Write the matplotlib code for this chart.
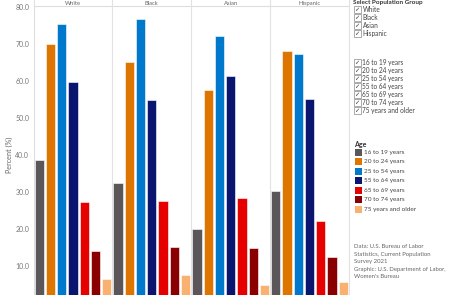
import matplotlib
matplotlib.use('Agg')
import matplotlib.pyplot as plt
from matplotlib.patches import Rectangle

plt.rcParams['font.family'] = ['Lato', 'DejaVu Sans']

groups = ['White', 'Black', 'Asian', 'Hispanic']
ages = ['16 to 19 years', '20 to 24 years', '25 to 54 years', '55 to 64 years',
        '65 to 69 years', '70 to 74 years', '75 years and older']
colors = ['#5b5659', '#dd7500', '#0078cc', '#0a1570', '#e60000', '#8a0000', '#f8b170']

white = [38.7, 70.1, 75.4, 59.8, 27.5, 14.2, 6.5]
black = [32.4, 65.2, 76.8, 54.9, 27.7, 15.3, 7.6]
asian = [20.0, 57.6, 72.3, 61.5, 28.5, 14.9, 4.9]
hispanic = [30.4, 68.2, 67.5, 55.2, 22.2, 12.6, 5.8]
values = [white, black, asian, hispanic]

source = ['Data: U.S. Bureau of Labor', 'Statistics, Current Population', 'Survey 2021',
          'Graphic: U.S. Department of Labor,', "Women's Bureau"]

W, H = 450, 295
fig = plt.figure(figsize=(W / 100, H / 100), dpi=100)


def fx(x):
    return x / W


def fy(y):
    return 1 - y / H


# main plot area (its bottom runs past the figure edge, as in the reference)
left, right, top, zero = 33.5, 349, 5.5, 303.3
ax = fig.add_axes([fx(left), fy(zero), (right - left) / W, (zero - top) / H])
n = len(ages)
for g, vals in enumerate(values):
    xs = [g * n + i for i in range(n)]
    ax.bar(xs, vals, width=0.82, color=colors, edgecolor='white', linewidth=0.4)
ax.set_xlim(-0.5, len(groups) * n - 0.5)
ax.set_ylim(0, (zero - top) / 3.7)
ax.set_xticks([])
ax.set_yticks(range(10, 90, 10))
ax.set_yticklabels([f'{v:.1f}' for v in range(10, 90, 10)])
ax.tick_params(axis='y', length=0, labelsize=5, labelcolor='#777777', pad=3)
for s in ['top', 'right', 'bottom']:
    ax.spines[s].set_visible(False)
ax.spines['left'].set_color('#dddddd')
ax.spines['left'].set_linewidth(0.8)
for g in range(1, len(groups)):
    ax.axvline(g * n - 0.5, color='#e2e2e2', lw=0.8, zorder=0)
ax.set_ylabel('Percent (%)', fontsize=5.2, color='#666666', labelpad=2)

# header strip
fig.add_artist(plt.Line2D([fx(left), fx(right)], [fy(top), fy(top)],
                          color='#dddddd', lw=0.8))
pw = (right - left) / len(groups)
for g, name in enumerate(groups):
    xc = left + pw * (g + 0.5)
    fig.text(fx(xc), fy(5.6), name, ha='center', va='bottom', fontsize=4.2, color='#666666')
    fig.add_artist(plt.Line2D([fx(left + pw * g), fx(left + pw * g)], [fy(0), fy(top)],
                              color='#e2e2e2', lw=0.8))

# legend pane separator
fig.add_artist(plt.Line2D([fx(349), fx(349)], [0, 1], color='#e2e2e2', lw=0.8))

# filter lists with checkboxes
fig.text(fx(353), fy(0.2), 'Select Population Group', ha='left', va='top',
         fontsize=4.6, fontweight='bold', color='#333333')


def checkbox(y, label):
    fig.add_artist(Rectangle((fx(353.5), fy(y + 3.5)), 7 / W, 7 / H, transform=fig.transFigure,
                             facecolor='white', edgecolor='#888888', lw=0.5))
    fig.text(fx(357), fy(y), '\u2713', ha='center', va='center', fontsize=4.5,
             color='#333333', family='DejaVu Sans')
    fig.text(fx(362.5), fy(y), label, ha='left', va='center', fontsize=4.7, color='#444444')


for i, name in enumerate(groups):
    checkbox(9.3 + 8 * i, name)
for i, name in enumerate(ages):
    checkbox(62.3 + 8 * i, name)

# colour legend
fig.text(fx(354), fy(144.3), 'Age', ha='left', va='center', fontsize=5,
         fontweight='bold', color='#333333')
for i, (name, c) in enumerate(zip(ages, colors)):
    y = 152.3 + 9.45 * i
    fig.add_artist(Rectangle((fx(354.5), fy(y + 3.5)), 7 / W, 7 / H,
                             transform=fig.transFigure, facecolor=c, edgecolor='none'))
    fig.text(fx(364), fy(y), name, ha='left', va='center', fontsize=4.6, color='#444444')

for i, line in enumerate(source):
    fig.text(fx(354.5), fy(246.7 + 7.5 * i), line, ha='left', va='center',
             fontsize=4.3, color='#666666')

fig.savefig('out.png', dpi=100)
